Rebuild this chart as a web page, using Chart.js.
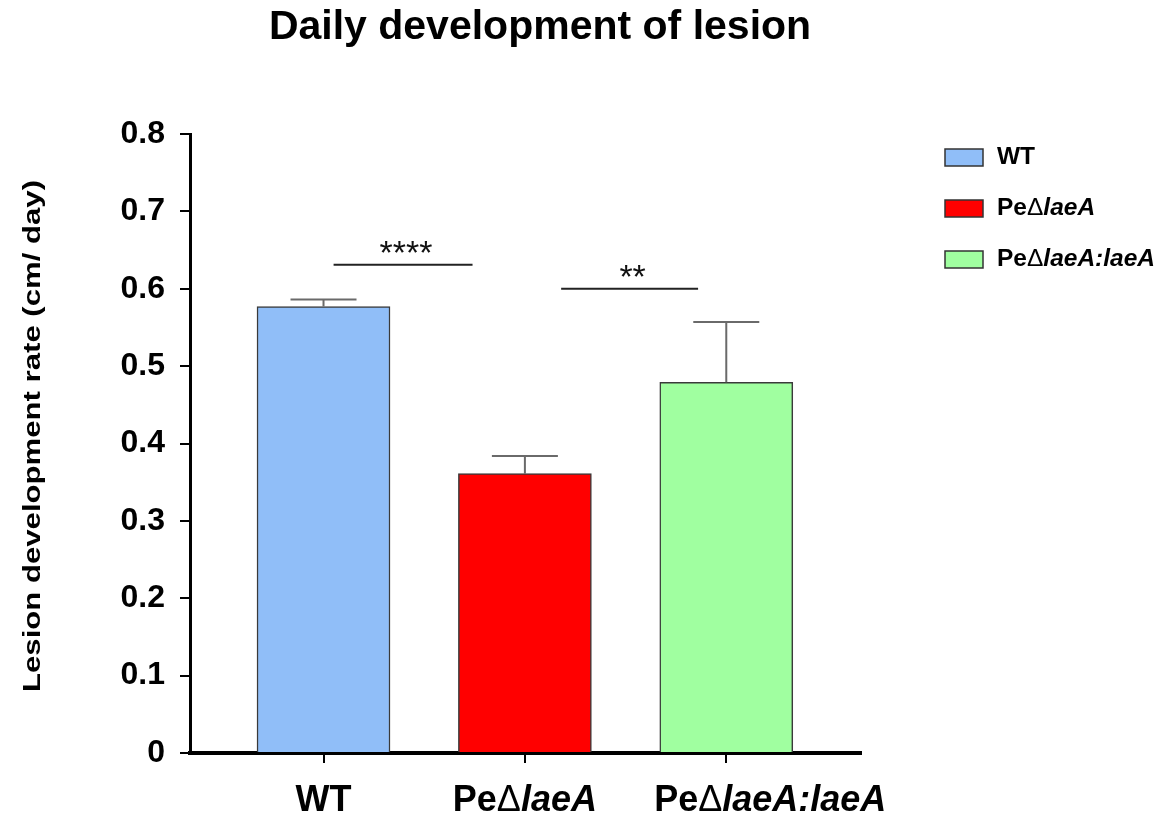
<!DOCTYPE html>
<html>
<head>
<meta charset="utf-8">
<script src="https://cdn.jsdelivr.net/npm/chart.js@4/dist/chart.umd.min.js"></script>
<style>
  html, body { margin: 0; padding: 0; background: #fff; }
  #wrap { width: 1168px; height: 821px; }
</style>
</head>
<body>
<div id="wrap"><canvas id="bar1"></canvas></div>
<script>
// categories and values
const categories = ['WT', 'PeΔlaeA', 'PeΔlaeA:laeA'];
const rates = [0.577, 0.361, 0.479];
const sem = [0.009, 0.023, 0.078];
const barColors = ['#90BEF8', '#FF0000', '#A0FFA0'];
const yTicks = [0, 0.1, 0.2, 0.3, 0.4, 0.5, 0.6, 0.7, 0.8];

// significance brackets: from / to (category units), height, stars
const sigFrom = [0.05, 1.18];
const sigTo = [0.74, 1.86];
const sigY = [0.631, 0.600];
const sigText = ['****', '**'];

const chartTitle = 'Daily development of lesion';
const yTitle = 'Lesion development rate (cm/ day)';

const FONT = '"Liberation Sans", Arial, sans-serif';

// split "PeΔlaeA:laeA" into plain / delta / italic pieces
function richParts(label) {
    if (label.indexOf('PeΔ') !== 0) {
        return [[label, 'bold']];
    }
    return [['Pe', 'bold'], ['Δ', 'normal'], [label.slice(3), 'italic bold']];
}

function textWidth(ctx, parts, size) {
    let total = 0;
    parts.forEach((p) => {
        ctx.font = p[1] + ' ' + size + 'px ' + FONT;
        total += ctx.measureText(p[0]).width;
    });
    return total;
}

// in the figure the label is centred on the part before ':'
function drawRich(ctx, label, x, y, size, align) {
    const parts = richParts(label);
    let cx = x;
    if (align === 'center') {
        const head = richParts(label.split(':')[0]);
        cx = x - textWidth(ctx, head, size) / 2;
    }
    ctx.textAlign = 'left';
    ctx.textBaseline = 'middle';
    parts.forEach((p) => {
        ctx.font = p[1] + ' ' + size + 'px ' + FONT;
        ctx.fillText(p[0], cx, y);
        cx += ctx.measureText(p[0]).width;
    });
}

const extras = {
    id: 'extras',
    afterDatasetsDraw(chart) {
        const ctx = chart.ctx;
        const xs = chart.scales.x;
        const ys = chart.scales.y;
        ctx.save();

        // title
        ctx.fillStyle = '#000';
        ctx.font = 'bold 41px ' + FONT;
        ctx.textAlign = 'center';
        ctx.textBaseline = 'middle';
        ctx.fillText(chartTitle, 540, 28);

        // y axis title, rotated and a bit stretched like the original
        ctx.save();
        ctx.translate(34, 436);
        ctx.rotate(-Math.PI / 2);
        ctx.font = 'bold 23px ' + FONT;
        const w = ctx.measureText(yTitle).width;
        ctx.scale(512 / w, 1);
        ctx.fillText(yTitle, 0, 0);
        ctx.restore();

        // error bars (upper only)
        ctx.strokeStyle = '#6a6a6a';
        ctx.lineWidth = 2;
        rates.forEach((v, i) => {
            const x = xs.getPixelForValue(i);
            const y0 = ys.getPixelForValue(v);
            const y1 = ys.getPixelForValue(v + sem[i]);
            ctx.beginPath();
            ctx.moveTo(x, y0);
            ctx.lineTo(x, y1);
            ctx.moveTo(x - 33, y1);
            ctx.lineTo(x + 33, y1);
            ctx.stroke();
        });

        // significance lines
        ctx.strokeStyle = '#222';
        ctx.fillStyle = '#111';
        ctx.lineWidth = 2;
        sigText.forEach((t, i) => {
            const xa = xs.getPixelForValue(sigFrom[i]);
            const xb = xs.getPixelForValue(sigTo[i]);
            const y = ys.getPixelForValue(sigY[i]);
            ctx.beginPath();
            ctx.moveTo(xa, y);
            ctx.lineTo(xb, y);
            ctx.stroke();
            ctx.font = '34px ' + FONT;
            ctx.textAlign = 'center';
            ctx.textBaseline = 'alphabetic';
            ctx.fillText(t, (xa + xb) / 2 + 3, y - 1);
        });

        // x category labels
        ctx.fillStyle = '#000';
        categories.forEach((c, i) => {
            drawRich(ctx, c, xs.getPixelForValue(i), 801, 36, 'center');
        });

        // legend
        categories.forEach((c, i) => {
            const top = 149 + i * 51;
            ctx.fillStyle = barColors[i];
            ctx.fillRect(945, top, 38, 17);
            ctx.strokeStyle = '#333';
            ctx.lineWidth = 1.5;
            ctx.strokeRect(945, top, 38, 17);
            ctx.fillStyle = '#000';
            drawRich(ctx, c, 997, top + 8, 24.5, 'left');
        });

        ctx.restore();
    }
};

const bar1 = document.getElementById('bar1').getContext('2d');
const myChart1 = new Chart(bar1, {
    type: 'bar',
    data: {
        datasets: [
            {
                label: 'Lesion development rate',
                data: rates.map((v, i) => {
                    return { x: i, y: v };
                }),
                backgroundColor: barColors,
                borderColor: '#3a3a3a',
                borderWidth: 1.5,
                barThickness: 133,
            },
        ],
    },
    options: {
        responsive: true,
        maintainAspectRatio: false,
        animation: false,
        layout: {
            padding: { left: 0, right: 307, top: 134, bottom: 0 },
        },
        plugins: {
            legend: { display: false },
            tooltip: { enabled: false },
            title: { display: false },
        },
        scales: {
            x: {
                type: 'linear',
                offset: false,
                min: -0.663,
                max: 2.669,
                afterBuildTicks: (scale) => {
                    scale.ticks = categories.map((c, i) => ({ value: i }));
                },
                afterFit: (scale) => {
                    scale.height = 68;
                },
                ticks: { display: false },
                grid: {
                    offset: false,
                    drawOnChartArea: false,
                    drawTicks: true,
                    tickLength: 10,
                    color: '#000',
                    lineWidth: 2,
                },
                border: { color: '#000', width: 4 },
            },
            y: {
                min: 0,
                max: 0.8,
                afterBuildTicks: (scale) => {
                    scale.ticks = yTicks.map((v) => ({ value: v }));
                },
                afterFit: (scale) => {
                    scale.width = 190;
                },
                ticks: {
                    color: '#000',
                    padding: 15,
                    font: { family: FONT, size: 32, weight: 'bold' },
                    callback: (v) => (v === 0 ? '0' : v.toFixed(1)),
                },
                grid: {
                    drawOnChartArea: false,
                    drawTicks: true,
                    tickLength: 10,
                    color: '#000',
                    lineWidth: 2,
                },
                border: { color: '#000', width: 3 },
            },
        },
    },
    plugins: [extras],
});
</script>
</body>
</html>
